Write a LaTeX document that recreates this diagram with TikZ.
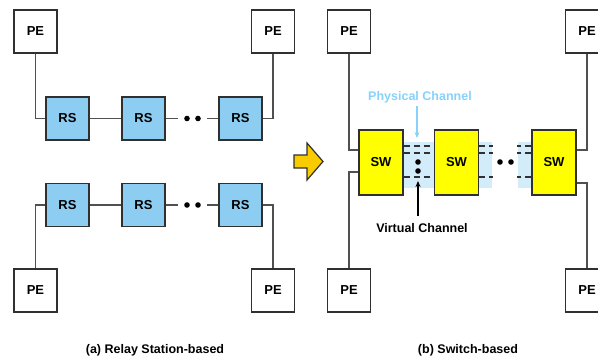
\documentclass[tikz,border=0pt]{standalone}
\usepackage{fontspec}
\setmainfont{Liberation Sans}
\usetikzlibrary{arrows.meta}
\definecolor{rsblue}{HTML}{8DCDF2}
\definecolor{swyellow}{HTML}{FFFF00}
\definecolor{chanblue}{HTML}{D2ECFA}
\definecolor{phyblue}{HTML}{88D2FA}
\definecolor{arrowgold}{HTML}{F8CC00}
\definecolor{linegray}{HTML}{505050}
\definecolor{boxedge}{HTML}{303030}
\begin{document}
\begin{tikzpicture}[x=1pt,y=-1pt,
  pebox/.style={draw=boxedge,line width=1.5pt,fill=white,minimum width=43pt,minimum height=43pt,inner sep=0pt,font=\bfseries\fontsize{13}{13}\selectfont},
  rsbox/.style={pebox,fill=rsblue},
  swbox/.style={pebox,fill=swyellow,minimum width=44pt,minimum height=65pt},
  link/.style={draw=linegray,line width=1.6pt},
  vc/.style={draw=boxedge,line width=1.6pt,dash pattern=on 6pt off 4pt},
  lbl/.style={font=\bfseries\fontsize{12.5}{13}\selectfont,inner sep=0pt}
]
\useasboundingbox (0,0) rectangle (598,362);

% ---------- (a) Relay Station-based ----------
\node[pebox] (peA1) at (35.5,31.5) {PE};
\node[pebox] (peA2) at (273,31.5) {PE};
\node[pebox] (peA3) at (35.5,290.5) {PE};
\node[pebox] (peA4) at (273,290.5) {PE};

\node[rsbox] (rs11) at (67.5,118.5) {RS};
\node[rsbox] (rs12) at (143.5,118.5) {RS};
\node[rsbox] (rs13) at (240.5,118.5) {RS};
\node[rsbox] (rs21) at (67.5,205) {RS};
\node[rsbox] (rs22) at (143.5,205) {RS};
\node[rsbox] (rs23) at (240.5,205) {RS};

\draw[link] (peA1.south) |- (rs11.west);
\draw[link] (rs11) -- (rs12);
\draw[link] (rs12.east) -- ++(12,0);
\draw[link] (rs13.west) -- ++(-11,0);
\draw[link] (rs13.east) -| (peA2.south);
\fill (187,118.5) circle (2.8pt);
\fill (198,118.5) circle (2.8pt);

\draw[link] (rs21.west) -| (peA3.north);
\draw[link] (rs21) -- (rs22);
\draw[link] (rs22.east) -- ++(12,0);
\draw[link] (rs23.west) -- ++(-11,0);
\draw[link] (rs23.east) -| (peA4.north);
\fill (187,205) circle (2.8pt);
\fill (198,205) circle (2.8pt);

\node[lbl] (capa) at (155,350) {(a) Relay Station-based};

% ---------- transition arrow ----------
\draw[fill=arrowgold,draw=boxedge,line width=1.2pt,line join=miter]
  (294,155) -- (307,155) -- (307,143) -- (323,161.5) -- (307,180) -- (307,168) -- (294,168) -- cycle;

% ---------- (b) Switch-based ----------
\fill[chanblue] (403,142) rectangle (435,188);
\fill[chanblue] (478,142) rectangle (492,188);
\fill[chanblue] (518,142) rectangle (532,188);

\node[pebox] (peB1) at (349,31.5) {PE};
\node[pebox] (peB2) at (587,31.5) {PE};
\node[pebox] (peB3) at (349,290.5) {PE};
\node[pebox] (peB4) at (587,290.5) {PE};

\node[swbox] (sw1) at (381,162.5) {SW};
\node[swbox] (sw2) at (456.5,162.5) {SW};
\node[swbox] (sw3) at (554,162.5) {SW};

\draw[link] (peB1.south) |- ([yshift=12.5pt]sw1.west);
\draw[link] (peB3.north) |- ([yshift=-9.5pt]sw1.west);
\draw[link] (peB2.south) |- ([yshift=12.5pt]sw3.east);
\draw[link] (peB4.north) |- ([yshift=-20.5pt]sw3.east);

\foreach \s in {16.5,9.5,-14.5}{
  \draw[vc] ([yshift=\s pt]sw1.east) -- ([yshift=\s pt]sw2.west);
  \draw[vc] ([yshift=\s pt]sw2.east) -- ++(14,0);
  \draw[vc] ([yshift=\s pt]sw3.west) -- ++(-14,0);
}
\fill (418,162) circle (2.8pt);
\fill (418,171) circle (2.8pt);
\fill (500,162) circle (2.8pt);
\fill (511,162) circle (2.8pt);

\node[lbl,text=phyblue] (phy) at (420,97) {Physical Channel};
\coordinate (phyend) at (417,138);
\draw[phyblue,line width=1.2pt,-{Stealth[length=6pt,width=5pt]}] ([yshift=-3pt]phy.south -| phyend) -- (phyend);

\node[lbl] (vir) at (422,228) {Virtual Channel};
\coordinate (virend) at (418,181);
\draw[black,line width=1.2pt,-{Stealth[length=6pt,width=5pt]}] ([yshift=7pt]vir.north -| virend) -- (virend);

\node[lbl] (capb) at (468,350) {(b) Switch-based};
\end{tikzpicture}
\end{document}
